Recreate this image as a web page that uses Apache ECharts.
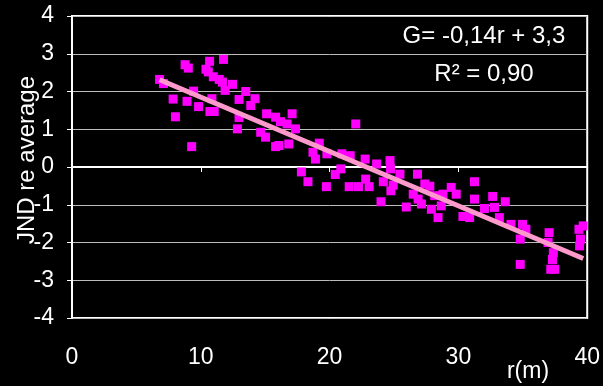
<!DOCTYPE html>
<html>
<head>
<meta charset="utf-8">
<script src="https://cdn.jsdelivr.net/npm/echarts@6/dist/echarts.min.js"></script>
<style>
  html, body { margin: 0; padding: 0; background: #000; }
  #chart { width: 603px; height: 386px; }
</style>
</head>
<body>
<div id="chart"></div>
<script>
// Distance r (m) of each measurement
const rValues = [
  6.80, 7.10, 8.78, 9.03, 10.68, 11.76, 10.40, 10.58, 10.97, 11.43,
  11.68, 12.46, 11.89, 9.44, 7.85, 8.93, 9.83, 10.86, 10.71, 11.04,
  8.03, 12.97, 13.49, 14.21, 13.88, 12.97, 12.84, 15.11, 15.81, 16.70,
  17.09, 14.65, 15.03, 15.81, 16.83, 9.29, 17.35, 16.19, 16.06, 22.03,
  19.20, 18.71, 18.90, 19.79, 20.95, 21.60, 17.81, 18.32, 19.75, 20.44,
  20.87, 21.52, 22.24, 23.07, 22.80, 22.76, 23.65, 24.69, 24.73, 24.17,
  24.94, 24.76, 25.46, 26.82, 27.39, 27.78, 26.49, 26.87, 27.13, 23.99,
  25.95, 27.90, 28.16, 28.42, 28.80, 28.67, 29.44, 29.83, 30.35, 30.87,
  31.25, 31.25, 32.02, 32.66, 32.80, 33.18, 33.64, 34.08, 34.98, 35.24,
  34.80, 34.80, 37.04, 36.96, 37.37, 37.30, 37.17, 37.48, 39.36, 39.48,
  39.41, 39.69
];
// JND relative to the average at each distance
const gValues = [
  2.32, 2.21, 2.71, 2.62, 2.80, 2.85, 2.59, 2.52, 2.39, 2.32,
  2.25, 2.19, 2.03, 2.01, 1.80, 1.74, 1.60, 1.81, 1.47, 1.47,
  1.33, 1.79, 2.00, 1.81, 1.63, 1.31, 1.01, 1.41, 1.32, 1.14,
  1.41, 0.92, 0.79, 0.54, 0.61, 0.54, 1.01, 1.20, 0.57, 1.14,
  0.63, 0.39, 0.21, 0.35, 0.35, 0.30, -0.13, -0.39, -0.52, -0.20,
  -0.05, -0.52, -0.52, -0.52, -0.32, 0.21, 0.08, 0.17, -0.05, -0.39,
  -0.48, -0.63, -0.19, -0.19, -0.45, -0.51, -0.72, -0.85, -0.98, -0.92,
  -1.06, -1.12, -0.76, -1.34, -0.72, -1.03, -0.54, -0.72, -1.31, -1.34,
  -0.39, -0.85, -1.10, -0.78, -1.07, -1.34, -0.92, -1.52, -1.52, -1.65,
  -1.91, -2.58, -1.74, -2.00, -2.27, -2.45, -2.71, -2.71, -1.65, -1.91,
  -2.09, -1.56
];
// Linear trend G = slope * r + intercept, and its R²
const trendSlope = -0.144;
const trendIntercept = 3.29;
const trendR2 = 0.90;

const xTicks = [0, 10, 20, 30, 40];
const yTicks = [-4, -3, -2, -1, 0, 1, 2, 3, 4];

const FONT = "'Liberation Sans', Arial, sans-serif";
const comma = (v, d) => v.toFixed(d).replace('.', ',');

const points = rValues.map((r, i) => [r, gValues[i]]);
const rMin = Math.min(...rValues);
const rMax = Math.max(...rValues);
const trendLine = [rMin, rMax].map(r => [r, trendSlope * r + trendIntercept]);

const chart = echarts.init(document.getElementById('chart'), null, { renderer: 'canvas' });
chart.setOption({
  backgroundColor: '#000',
  animation: false,
  grid: {
    left: 72, right: 13, top: 16, bottom: 68,
    show: true, borderColor: '#fff', borderWidth: 2, backgroundColor: '#000'
  },
  xAxis: {
    type: 'value',
    min: xTicks[0], max: xTicks[xTicks.length - 1], interval: 10,
    axisLine: { show: true, lineStyle: { color: '#fff', width: 2 } },
    axisTick: { show: true, inside: false, length: 5, lineStyle: { color: '#fff', width: 1 } },
    axisLabel: { color: '#fff', fontSize: 23, fontFamily: FONT, margin: 28 },
    splitLine: { show: false }
  },
  yAxis: {
    type: 'value',
    min: yTicks[0], max: yTicks[yTicks.length - 1], interval: 1,
    axisLine: { show: true, lineStyle: { color: '#fff', width: 2 } },
    axisTick: { show: true, inside: false, length: 5, lineStyle: { color: '#fff', width: 1 } },
    axisLabel: { color: '#fff', fontSize: 23, fontFamily: FONT, margin: 18 },
    splitLine: { show: true, lineStyle: { color: '#bdbdbd', width: 1 } }
  },
  series: [
    {
      type: 'scatter',
      data: points,
      symbol: 'rect',
      symbolSize: 9,
      itemStyle: { color: '#ff00ff', opacity: 1 },
      z: 2
    },
    {
      type: 'line',
      data: trendLine,
      showSymbol: false,
      symbol: 'none',
      lineStyle: { color: '#ff99cc', width: 5, opacity: 1 },
      z: 3
    }
  ],
  graphic: [
    {
      type: 'text',
      x: 27, y: 160,
      rotation: Math.PI / 2,
      style: {
        text: 'JND re average', fill: '#fff', font: '24px ' + FONT,
        align: 'center', verticalAlign: 'middle',
        textAlign: 'center', textVerticalAlign: 'middle'
      }
    },
    {
      type: 'text',
      x: 528, y: 372,
      style: {
        text: 'r(m)', fill: '#fff', font: '23px ' + FONT,
        align: 'center', verticalAlign: 'middle',
        textAlign: 'center', textVerticalAlign: 'middle'
      }
    },
    {
      type: 'text',
      x: 484, y: 36,
      z: 10,
      style: {
        text: 'G= ' + comma(trendSlope, 2) + 'r + ' + comma(trendIntercept, 1),
        fill: '#fff', font: '24px ' + FONT,
        align: 'center', verticalAlign: 'middle',
        textAlign: 'center', textVerticalAlign: 'middle'
      }
    },
    {
      type: 'text',
      x: 484, y: 74,
      z: 10,
      style: {
        text: 'R\u00B2 = ' + comma(trendR2, 2),
        fill: '#fff', font: '24px ' + FONT,
        align: 'center', verticalAlign: 'middle',
        textAlign: 'center', textVerticalAlign: 'middle'
      }
    }
  ]
});
</script>
</body>
</html>
